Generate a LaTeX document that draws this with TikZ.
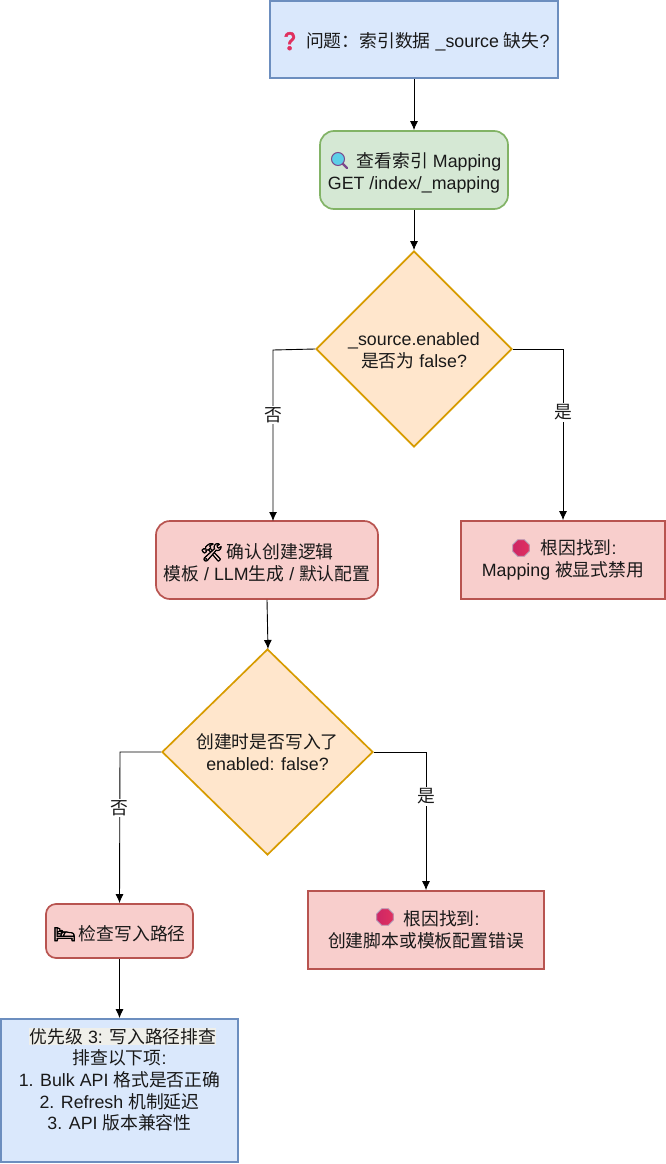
\documentclass[tikz,border=0pt]{standalone}
\usepackage{fontspec}
\setmainfont{Liberation Sans}
\newfontfamily\cjk{Noto Sans CJK SC}
\newfontfamily\emoji[FakeBold=2.5]{Noto Emoji}
\newcommand{\zh}[1]{{\cjk #1}}
\newcommand{\emo}[2]{{\emoji\textcolor{#1}{#2}}}
\newcommand{\topgap}[1]{\rule{0pt}{#1pt}}
\usetikzlibrary{shapes.geometric,arrows.meta,calc}
\definecolor{bluefill}{HTML}{DAE8FC}
\definecolor{blueline}{HTML}{6C8EBF}
\definecolor{greenfill}{HTML}{D5E8D4}
\definecolor{greenline}{HTML}{82B366}
\definecolor{orangefill}{HTML}{FFE6CC}
\definecolor{orangeline}{HTML}{D79B00}
\definecolor{redfill}{HTML}{F8CECC}
\definecolor{redline}{HTML}{B85450}
\definecolor{stopred}{HTML}{E0305F}
\definecolor{stopedge}{HTML}{B9B4C8}
\definecolor{lenscyan}{HTML}{5CCFE8}
\definecolor{lenspurple}{HTML}{7B4A8C}
\definecolor{markbg}{HTML}{EFEFEA}
\tikzset{
  every node/.style={font=\fontsize{17.8}{21.7}\selectfont, align=center, text=black!90},
  plainbox/.style={draw, line width=1.7pt, rectangle, inner sep=0pt},
  roundbox/.style={plainbox, rounded corners=14pt},
  bluebox/.style={plainbox, fill=bluefill, draw=blueline},
  greenbox/.style={roundbox, fill=greenfill, draw=greenline},
  redbox/.style={roundbox, fill=redfill, draw=redline},
  causebox/.style={plainbox, fill=redfill, draw=redline},
  choice/.style={diamond, draw=orangeline, fill=orangefill, line width=1.7pt, inner sep=0pt},
  stopsign/.style={regular polygon, regular polygon sides=8, minimum size=18pt, inner sep=0pt, fill=stopred, draw=stopedge, line width=0.8pt},
  link/.style={draw, -{Latex[length=9pt,width=8pt]}, line width=0.9pt},
  answer/.style={fill=white, inner sep=1.5pt}
}
\begin{document}
\begin{tikzpicture}[x=1pt,y=-1pt]
  \useasboundingbox (0,0) rectangle (666,1164);
  % Top of the chart
  \node[bluebox, minimum width=288pt, minimum height=77pt] (question) at (414,39.5) {\topgap{19}\emo{stopred}{❓}\hspace{5pt}\zh{问题：索引数据} \_source \zh{缺失}?};
  \node[greenbox, minimum width=188pt, minimum height=78pt] (mapping) at (414,170) {\topgap{21}\hspace{30pt}\zh{查看索引} Mapping\\GET /index/\_mapping};
  \node[choice, minimum width=196pt, minimum height=196pt] (enabled) at (414,349) {\topgap{17}\_source.enabled\\\zh{是否为} false?};
  % Second row
  \node[redbox, minimum width=222pt, minimum height=78pt] (logic) at (267,560) {\topgap{20}\emo{black}{🛠}\hspace{4pt}\zh{确认创建逻辑}\\\zh{模板} / LLM\zh{生成} / \zh{默认配置}};
  \node[causebox, minimum width=204pt, minimum height=78pt] (causeA) at (563,560) {\hspace{31pt}\zh{根因找到}:\\Mapping \zh{被显式禁用}};
  \node[choice, minimum width=211pt, minimum height=206pt] (written) at (267.5,752) {\zh{创建时是否写入了}\\enabled: false?};
  % Lower row
  \node[causebox, minimum width=236pt, minimum height=78pt] (causeB) at (426,930) {\hspace{31pt}\zh{根因找到}:\\\zh{创建脚本或模板配置错误}};
  \node[redbox, minimum width=147pt, minimum height=54pt, rounded corners=10pt] (path) at (119.5,931) {\topgap{20}\emo{black}{🛌}\hspace{3pt}\zh{检查写入路径}};
  \node[bluebox, minimum width=237pt, minimum height=143pt] (checks) at (119.5,1090.5) {\topgap{20}\hspace{6pt}\fboxsep=0pt\colorbox{markbg}{\hspace{1pt}\zh{优先级} 3: \zh{写入路径排查}}\\\zh{排查以下项}:\\1. Bulk API \zh{格式是否正确}\\2. Refresh \zh{机制延迟}\\3. API \zh{版本兼容性}\\\strut};
  % Icons drawn by hand
  \node[stopsign, left color=stopred!80!violet, right color=stopred] (stopA) at (521,548) {};
  \node[stopsign, left color=stopred!80!violet, right color=stopred] (stopB) at (385,917) {};
  \node[circle, draw=lenspurple, fill=lenscyan, line width=1pt, minimum size=13pt, inner sep=0pt] (lens) at (338,159) {};
  \coordinate (lensend) at (347,168);
  \draw[lenspurple, line width=2.4pt, line cap=round] (lens.south east) -- (lensend);
  % Free ends where a line leaves or meets a box off centre
  \coordinate (logictop) at (273,521);
  \coordinate (writtentop) at (268,649);
  % Connectors
  \draw[link] (question) -- (mapping);
  \draw[link] (mapping) -- (enabled);
  \draw[link] (enabled.west) -- (273,350) -- (logictop) node[answer, pos=0.38] (noA) {\zh{否}};
  \draw[link] (enabled.east) -- (563,349) -- (causeA.north) node[answer, pos=0.37] (yesA) {\zh{是}};
  \draw[link] (logic.south) -- (writtentop);
  \draw[link] (written.west) -- (120,752) -- (path.north) node[answer, pos=0.37] (noB) {\zh{否}};
  \draw[link] (written.east) -- (426,752) -- (causeB.north) node[answer, pos=0.32] (yesB) {\zh{是}};
  \draw[link] (path) -- (checks);
\end{tikzpicture}
\end{document}
